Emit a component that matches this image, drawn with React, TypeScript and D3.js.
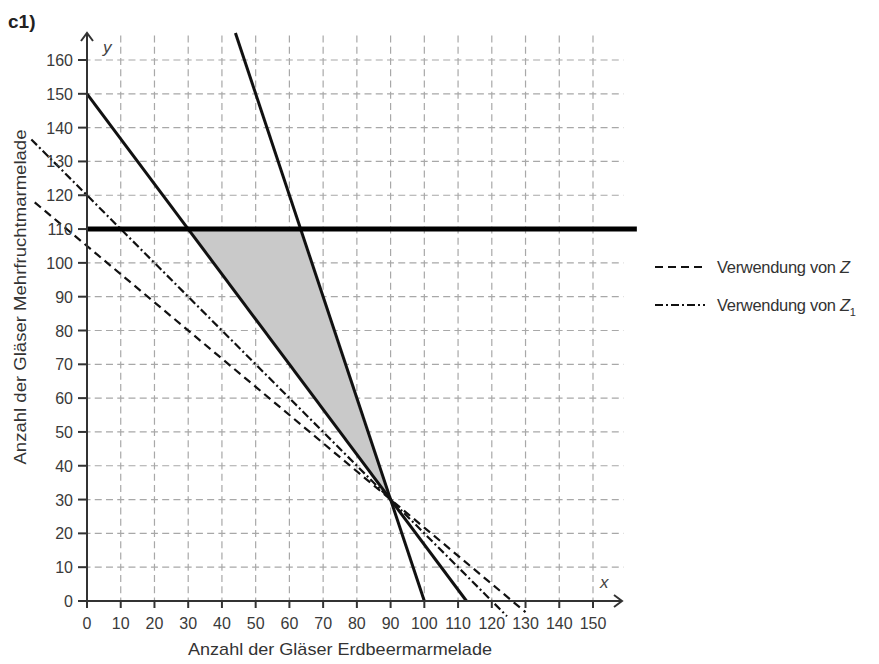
import React from "react";
import * as d3 from "d3";

// ---- data ----
const xTicks = [0, 10, 20, 30, 40, 50, 60, 70, 80, 90, 100, 110, 120, 130, 140, 150];
const yTicks = [0, 10, 20, 30, 40, 50, 60, 70, 80, 90, 100, 110, 120, 130, 140, 150, 160];
// constraint lines (data coordinates of endpoints)
const lineA = [[0, 150], [112.5, 0]]; // 4x + 3y = 450
const lineB = [[44, 168], [100, 0]]; // 3x + y = 300
const lineC = [[0, 110], [163, 110]]; // y = 110
// objective lines
const lineZ = [[-15.5, 117.9], [130, -3.3]]; // Z
const lineZ1 = [[-16.5, 136.5], [124.5, -4.5]]; // Z1
// feasible region
const feasible = [[30, 110], [63.33, 110], [90, 30]];
const legendItems = ["Z", "Z1"];

const W = 879;
const H = 664;
const FONT = "'Liberation Sans', Arial, Helvetica, sans-serif";

export default function App() {
  const x = d3.scaleLinear().domain([0, 150]).range([87, 593]);
  const y = d3.scaleLinear().domain([0, 160]).range([601, 60]);
  const line = d3
    .line<number[]>()
    .x((d) => x(d[0]))
    .y((d) => y(d[1]));

  const gridTop = y(168.3);
  const gridRight = x(159);
  const cell = x(10) - x(0);
  const gridDash = `7 ${(cell / 3 - 7).toFixed(2)}`;

  return (
    <svg
      width={W}
      height={H}
      style={{ position: "absolute", left: 0, top: 0, background: "#fff" }}
      fontFamily={FONT}
    >
      <rect x={0} y={0} width={W} height={H} fill="#fff" />
      <text x={8} y={28} fontSize={19} fontWeight="bold" fill="#222">
        c1)
      </text>

      {/* grid */}
      <g stroke="#a8a8a8" strokeWidth={1.2} fill="none">
        {xTicks
          .filter((t) => t > 0)
          .map((t) => (
            <line
              key={"gx" + t}
              x1={x(t)}
              x2={x(t)}
              y1={y(0)}
              y2={gridTop}
              strokeDasharray={gridDash}
              strokeDashoffset={3.5}
            />
          ))}
        {yTicks
          .filter((t) => t > 0)
          .map((t) => (
            <line
              key={"gy" + t}
              x1={x(0)}
              x2={gridRight}
              y1={y(t)}
              y2={y(t)}
              strokeDasharray={gridDash}
              strokeDashoffset={3.5}
            />
          ))}
      </g>

      {/* feasible region */}
      <path d={line(feasible as number[][])! + "Z"} fill="#c9c9c9" stroke="none" />

      {/* objective lines */}
      <path d={line(lineZ as number[][])!} stroke="#111" strokeWidth={2.2} strokeDasharray="8 5" fill="none" />
      <path
        d={line(lineZ1 as number[][])!}
        stroke="#111"
        strokeWidth={2.2}
        strokeDasharray="8 3 2 3"
        fill="none"
      />

      {/* constraint lines */}
      <path d={line(lineA as number[][])!} stroke="#111" strokeWidth={3} fill="none" />
      <path d={line(lineB as number[][])!} stroke="#111" strokeWidth={3} fill="none" />
      <path d={line(lineC as number[][])!} stroke="#000" strokeWidth={5} fill="none" />

      {/* axes */}
      <g stroke="#333" strokeWidth={2} fill="none">
        <line x1={x(0)} x2={622} y1={y(0)} y2={y(0)} />
        <line x1={x(0)} x2={x(0)} y1={y(0)} y2={33} />
        <polyline points={`${614},${y(0) - 6} 622,${y(0)} ${614},${y(0) + 6}`} />
        <polyline points={`${x(0) - 6},41 ${x(0)},33 ${x(0) + 6},41`} />
        {xTicks.map((t) => (
          <line key={"tx" + t} x1={x(t)} x2={x(t)} y1={y(0)} y2={y(0) + 7} />
        ))}
        {yTicks.map((t) => (
          <line key={"ty" + t} x1={x(0) - 9} x2={x(0)} y1={y(t)} y2={y(t)} />
        ))}
      </g>

      {/* tick labels */}
      <g fontSize={16} fill="#3a3a3a">
        {xTicks.map((t) => (
          <text key={"lx" + t} x={x(t)} y={629} textAnchor="middle">
            {t}
          </text>
        ))}
        {yTicks.map((t) => (
          <text key={"ly" + t} x={73} y={y(t) + 6} textAnchor="end">
            {t}
          </text>
        ))}
      </g>

      <text x={103} y={53} fontSize={17} fontStyle="italic" fill="#444">
        y
      </text>
      <text x={600} y={588} fontSize={17} fontStyle="italic" fill="#444">
        x
      </text>

      {/* axis titles */}
      <text
        x={340}
        y={655}
        fontSize={17}
        fill="#333"
        textAnchor="middle"
        textLength={304}
        lengthAdjust="spacingAndGlyphs"
      >
        Anzahl der Gläser Erdbeermarmelade
      </text>
      <text
        transform={`translate(26,297) rotate(-90)`}
        fontSize={17}
        fill="#333"
        textAnchor="middle"
        textLength={335}
        lengthAdjust="spacingAndGlyphs"
      >
        Anzahl der Gläser Mehrfruchtmarmelade
      </text>

      {/* legend */}
      {legendItems.map((item, i) => {
        const ly = 267 + i * 38;
        return (
          <g key={item}>
            <line
              x1={655}
              x2={705}
              y1={ly}
              y2={ly}
              stroke="#111"
              strokeWidth={2}
              strokeDasharray={i === 0 ? "8 5" : "8 3 2 3"}
            />
            <text x={717} y={ly + 6} fontSize={16.5} letterSpacing={-0.3} fill="#333">
              Verwendung von{" "}
              <tspan fontStyle="italic">Z</tspan>
              {item.length > 1 ? (
                <tspan fontSize={11} dy={5}>
                  {item.slice(1)}
                </tspan>
              ) : null}
            </text>
          </g>
        );
      })}
    </svg>
  );
}
